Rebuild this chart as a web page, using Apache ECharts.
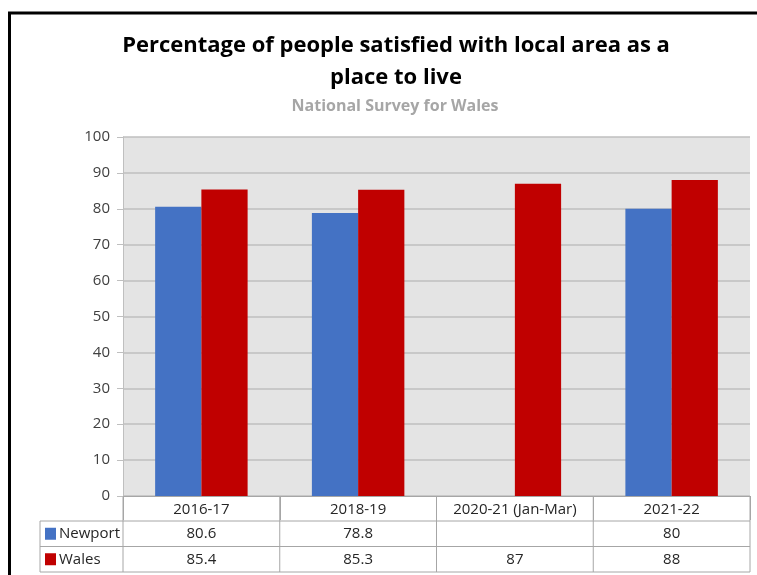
<!DOCTYPE html>
<html><head><meta charset="utf-8">
<script src="https://cdn.jsdelivr.net/npm/echarts@6/dist/echarts.min.js"></script>
<style>html,body{margin:0;padding:0;background:#fff}#c{width:757px;height:575px}</style>
</head><body><div id="c"></div>
<script>
const categories = ['2016-17', '2018-19', '2020-21 (Jan-Mar)', '2021-22'];
const newport = [80.6, 78.8, null, 80];
const wales = [85.4, 85.3, 87, 88];
const seriesNames = ['Newport', 'Wales'];
const seriesColors = ['#4472C4', '#C00000'];
const yTicks = [0, 10, 20, 30, 40, 50, 60, 70, 80, 90, 100];

const FONT = '"Liberation Sans Narrow","Open Sans",sans-serif';
const chart = echarts.init(document.getElementById('c'), null, {renderer: 'canvas'});
const G = {left: 123, top: 137, right: 7, bottom: 79};

chart.setOption({
  animation: false,
  title: [
    {text: 'Percentage of people satisfied with local area as a\nplace to live', left: 391, textAlign: 'center', top: 25,
      textStyle: {fontFamily: '"Open Sans",sans-serif', fontWeight: 'bold', fontSize: 22, lineHeight: 32, color: '#000'}},
    {text: 'National Survey for Wales', left: 390, textAlign: 'center', top: 93,
      textStyle: {fontFamily: '"Open Sans",sans-serif', fontWeight: 'bold', fontSize: 16, color: '#A6A6A6'}}
  ],
  grid: Object.assign({backgroundColor: '#E4E4E4', show: true, borderWidth: 0}, G),
  xAxis: {
    type: 'category', data: categories,
    axisLine: {show: true, lineStyle: {color: '#A6A6A6', width: 1}},
    axisTick: {show: true, length: 24, lineStyle: {color: '#A6A6A6'}},
    axisLabel: {interval: 0, margin: 6, fontSize: 15, color: '#262626', fontFamily: FONT}
  },
  yAxis: {
    type: 'value', min: yTicks[0], max: yTicks[yTicks.length - 1], interval: 10,
    axisLine: {show: true, lineStyle: {color: '#BFBFBF'}},
    axisTick: {show: true, length: 6, lineStyle: {color: '#BFBFBF'}},
    splitLine: {lineStyle: {color: '#BFBFBF', width: 1.5}},
    axisLabel: {fontSize: 15, color: '#404040', margin: 13, fontFamily: '"Open Sans",sans-serif'}
  },
  series: [
    {name: seriesNames[0], type: 'bar', data: newport, barGap: '0%', barCategoryGap: '41%',
      itemStyle: {color: seriesColors[0]}},
    {name: seriesNames[1], type: 'bar', data: wales, barGap: '0%', barCategoryGap: '41%',
      itemStyle: {color: seriesColors[1]}}
  ]
});

// data table under the chart
const W = 757, H = 575;
const x0 = G.left, x1 = W - G.right, yBase = H - G.bottom;
const hdrH = 25, rowH = 25.5;
const tableLeft = 40;
const n = categories.length;
const cw = (x1 - x0) / n;
const lineC = '#A6A6A6';
const els = [];
// frame
els.push({type: 'polyline', shape: {points: [[9.5, H + 5], [9.5, 13], [W + 5, 13]]}, style: {stroke: '#000', lineWidth: 3, fill: null}});
const rowsY = [yBase + hdrH, yBase + hdrH + rowH, yBase + hdrH + 2 * rowH];
rowsY.forEach(y => els.push({type: 'line', shape: {x1: tableLeft, y1: y, x2: x1, y2: y}, style: {stroke: lineC, lineWidth: 1}}));
els.push({type: 'line', shape: {x1: tableLeft, y1: rowsY[0], x2: tableLeft, y2: rowsY[2]}, style: {stroke: lineC, lineWidth: 1}});
for (let i = 0; i <= n; i++) {
  const x = x0 + i * cw;
  els.push({type: 'line', shape: {x1: x, y1: yBase, x2: x, y2: rowsY[2]}, style: {stroke: lineC, lineWidth: 1}});
}
const seriesData = [newport, wales];
seriesData.forEach((arr, r) => {
  const yc = (rowsY[r] + rowsY[r + 1]) / 2;
  els.push({type: 'rect', shape: {x: 45, y: yc - 6, width: 11, height: 12}, style: {fill: seriesColors[r]}});
  els.push({type: 'text', x: 59, y: yc, style: {text: seriesNames[r], fontSize: 15, fontFamily: FONT, fill: '#262626', verticalAlign: 'middle', align: 'left'}});
  arr.forEach((v, i) => {
    if (v === null) return;
    els.push({type: 'text', x: x0 + (i + 0.5) * cw, y: yc, style: {text: String(v), fontSize: 15, fontFamily: FONT, fill: '#262626', verticalAlign: 'middle', align: 'center'}});
  });
});
chart.setOption({graphic: {elements: els}});
</script>
</body></html>
